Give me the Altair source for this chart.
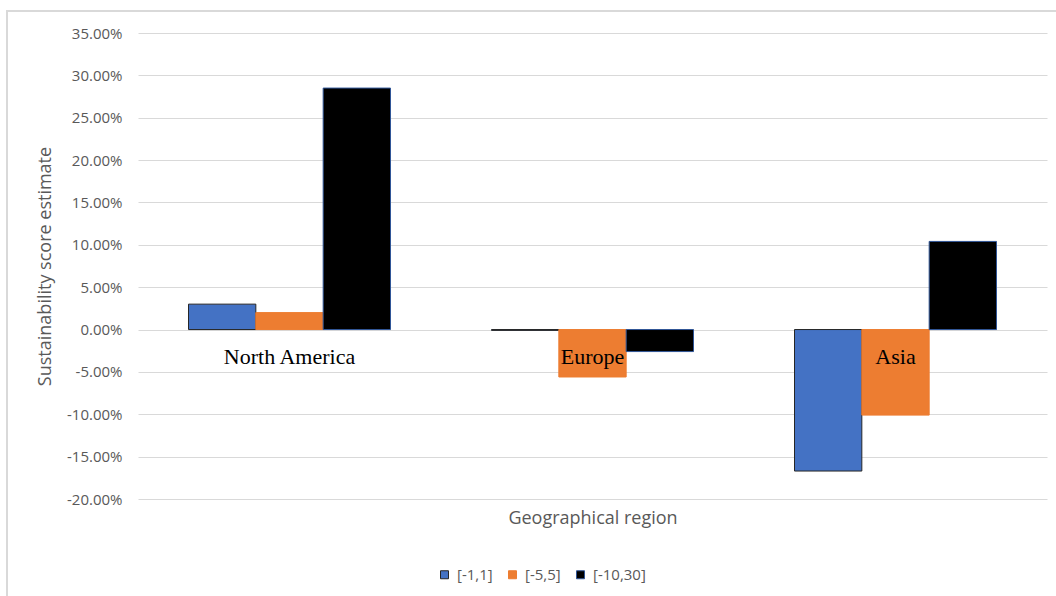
import altair as alt
import pandas as pd

# Regions on the category axis and the three scoring ranges
regions = ["North America", "Europe", "Asia"]
series = ["[-1,1]", "[-5,5]", "[-10,30]"]

# Sustainability score estimate per region, one list per range
range_1 = [0.030, -0.001, -0.167]
range_5 = [0.020, -0.056, -0.101]
range_30 = [0.285, -0.026, 0.104]

y_ticks = [-0.20, -0.15, -0.10, -0.05, 0.0, 0.05, 0.10, 0.15, 0.20, 0.25, 0.30, 0.35]

fill_colors = ["#4472C4", "#ED7D31", "#000000"]
edge_colors = ["#262626", "#ED7D31", "#2F5597"]

rows = []
for name, values in zip(series, [range_1, range_5, range_30]):
    for region, v in zip(regions, values):
        rows.append({"region": region, "series": name, "value": v})
bars_df = pd.DataFrame(rows)
labels_df = pd.DataFrame({"region": regions, "zero": [0.0] * len(regions)})

PLOT_W, PLOT_H = 909, 466
GRAY = "#595959"

legend_style = dict(
    title=None, orient="none", direction="horizontal",
    legendX=299, legendY=534,
    symbolType="square", symbolSize=64, symbolStrokeWidth=1,
    labelFont="Open Sans", labelFontSize=15, labelColor=GRAY,
    labelOffset=5, columnPadding=12,
)

x_enc = alt.X(
    "region:N",
    sort=regions,
    scale=alt.Scale(paddingInner=1 / 3, paddingOuter=1 / 6),
    axis=alt.Axis(
        labels=False, ticks=False, domain=False, grid=False,
        title="Geographical region", titleFont="Open Sans", titleFontSize=18,
        titleFontWeight="normal", titleColor=GRAY,
        titleY=19, titleBaseline="middle",
    ),
)

y_scale = alt.Scale(domain=[-0.20, 0.35], nice=False, zero=False)

bars = alt.Chart(bars_df).mark_bar(strokeWidth=1).encode(
    x=x_enc,
    xOffset=alt.XOffset("series:N", sort=series),
    y=alt.Y(
        "value:Q",
        scale=y_scale,
        axis=alt.Axis(
            values=y_ticks,
            labelExpr="replace(format(datum.value, '.2%'), '\u2212', '-')",
            labelFont="Open Sans", labelFontSize=15, labelColor=GRAY,
            labelPadding=16, ticks=False, domain=False,
            grid=True, gridColor="#d9d9d9", gridWidth=1,
            title="Sustainability score estimate", titleFont="Open Sans",
            titleFontSize=18, titleFontWeight="normal", titleColor=GRAY,
            titleX=-93, titleY=PLOT_H / 2, titleBaseline="middle",
            titleAnchor="middle", titleAlign="center",
        ),
    ),
    fill=alt.Fill(
        "series:N",
        sort=series,
        scale=alt.Scale(domain=series, range=fill_colors),
        legend=alt.Legend(**legend_style),
    ),
    stroke=alt.Stroke(
        "series:N",
        sort=series,
        scale=alt.Scale(domain=series, range=edge_colors),
        legend=alt.Legend(**legend_style),
    ),
)

# Region names sit on the zero line, drawn over the bars
names = alt.Chart(labels_df).mark_text(
    font="Liberation Serif", fontSize=22, color="#000000",
    baseline="alphabetic", align="center", dy=34,
).encode(
    x=alt.X("region:N", sort=regions),
    y=alt.Y("zero:Q", scale=y_scale),
    text="region:N",
)

# Light outer frame around the chart area
frame = alt.Chart(pd.DataFrame({"f": [0]})).mark_rect(
    fill=None, stroke="#d9d9d9", strokeWidth=2
).encode(
    x=alt.value(-131), x2=alt.value(PLOT_W + 9 + 10),
    y=alt.value(-22), y2=alt.value(PLOT_H + 120),
)

chart = alt.layer(frame, bars, names).properties(
    width=PLOT_W,
    height=PLOT_H,
    autosize=alt.AutoSizeParams(type="none"),
    padding={"left": 138, "top": 33, "right": 9, "bottom": 97},
    background="white",
).configure_view(stroke=None)

chart.save("out.html", embed_options={"renderer": "svg", "actions": False})
